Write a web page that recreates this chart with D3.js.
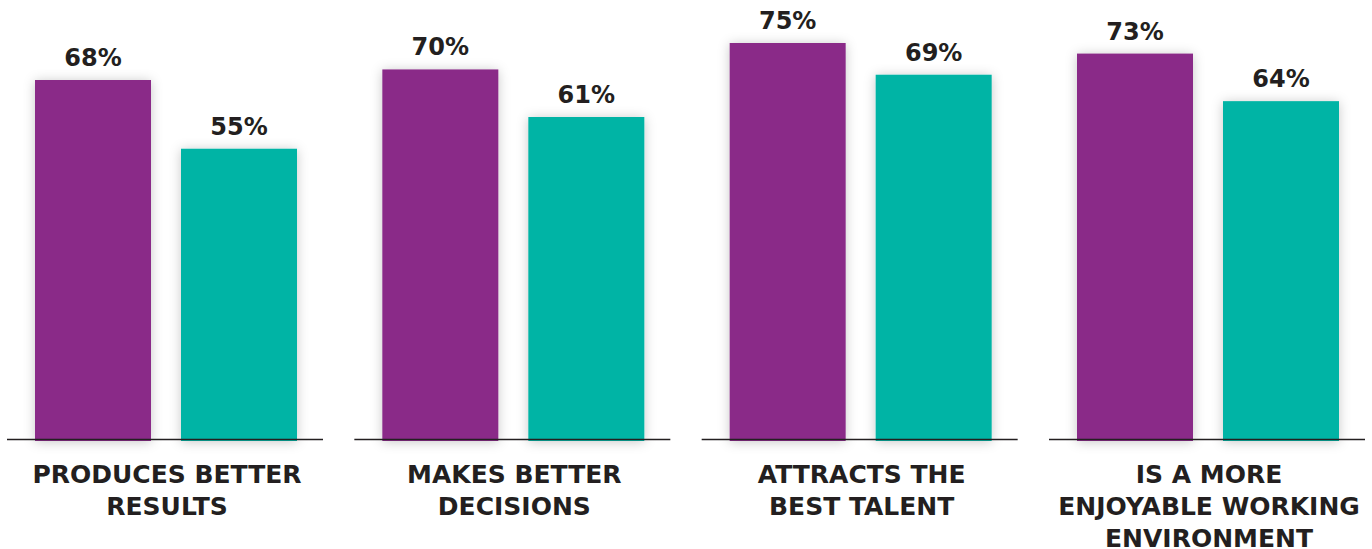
<!DOCTYPE html>
<html><head><meta charset="utf-8">
<script src="https://cdn.jsdelivr.net/npm/d3@7"></script>
<style>body{margin:0;background:#fff;}svg{display:block;}</style>
</head><body>
<script>
const categories = [["PRODUCES BETTER","RESULTS"],["MAKES BETTER","DECISIONS"],["ATTRACTS THE","BEST TALENT"],["IS A MORE","ENJOYABLE WORKING","ENVIRONMENT"]];
const seriesA = [68,70,75,73];
const seriesB = [55,61,69,64];
const colors = ["#8a2b88","#00b4a5"];

const W=1372,H=549;
const svg=d3.select("body").append("svg").attr("width",W).attr("height",H);
const defs=svg.append("defs");
const f=defs.append("filter").attr("id","sh").attr("x","-30%").attr("y","-30%").attr("width","160%").attr("height","160%");
f.append("feDropShadow").attr("dx",0).attr("dy",1).attr("stdDeviation",6).attr("flood-color","#000").attr("flood-opacity",0.22);

const baseY=439.5;
const y=d3.scaleLinear().domain([0,75]).range([baseY,43]);
const groupX=d3.scaleLinear().domain([0,3]).range([7,1049]);
const groupW=316;
const inner=d3.scaleBand().domain([0,1]).range([28,290]).paddingInner(30/146);

categories.forEach((cat,i)=>{
  const g=svg.append("g").attr("transform",`translate(${groupX(i)},0)`);
  const vals=[seriesA[i],seriesB[i]];
  vals.forEach((v,j)=>{
    g.append("rect").attr("x",inner(j)).attr("width",inner.bandwidth()).attr("y",y(v)).attr("height",baseY+1.5-y(v))
      .attr("fill",colors[j]).attr("filter","url(#sh)");
    g.append("text").attr("x",inner(j)+inner.bandwidth()/2).attr("y",y(v)-14).attr("text-anchor","middle")
      .attr("font-family","DejaVu Sans").attr("font-weight","bold").attr("font-size",24)
      .attr("fill","#231f20").text(v+"%");
  });
  g.append("line").attr("x1",0).attr("x2",groupW).attr("y1",baseY).attr("y2",baseY)
    .attr("stroke","#231f20").attr("stroke-width",1.5);
  cat.forEach((line,k)=>{
    g.append("text").attr("x",groupW/2+2).attr("y",483+k*32).attr("text-anchor","middle")
      .attr("font-family","DejaVu Sans").attr("font-weight","bold").attr("font-size",25)
      .attr("fill","#231f20").text(line);
  });
});
</script>
</body></html>
